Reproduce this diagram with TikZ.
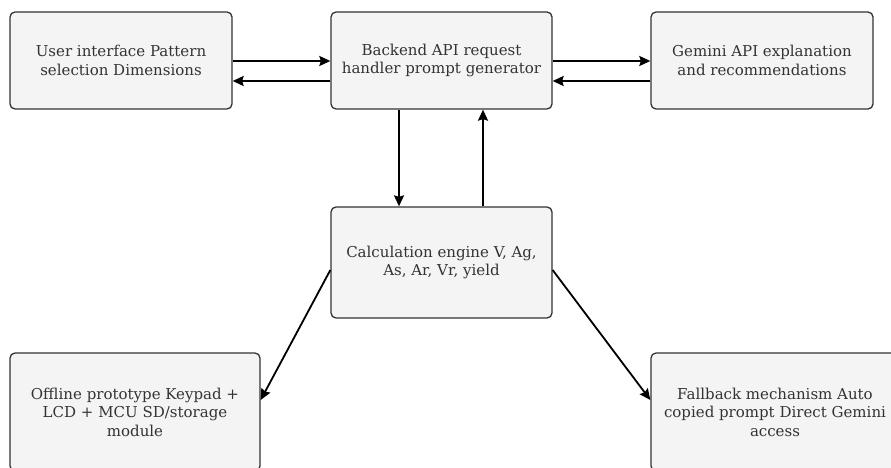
\documentclass[tikz,border=0pt]{standalone}
\usepackage{fontspec}
\setmainfont{DejaVu Serif}
\usetikzlibrary{arrows.meta}
\definecolor{boxfill}{HTML}{F4F4F4}
\definecolor{boxline}{HTML}{333333}
\definecolor{txt}{HTML}{333333}
\begin{document}
\begin{tikzpicture}[x=1pt,y=1pt,
  box/.style={draw=boxline, fill=boxfill, line width=1.3pt, rounded corners=5pt,
    align=center, inner sep=0pt, text=txt,
    font=\fontsize{15}{18.5}\selectfont},
  conn/.style={line width=1.8pt, -{Stealth[length=11pt,width=10pt,inset=1.5pt]}}]
\useasboundingbox (0,0) rectangle (891,-468);
\clip (0,0) rectangle (891,-468);
\node[box, minimum width=222pt, minimum height=97pt] (ui) at (121,-60.5) {User interface Pattern\\selection Dimensions};
\node[box, minimum width=221pt, minimum height=97pt] (be) at (441.5,-60.5) {Backend API request\\handler prompt generator};
\node[box, minimum width=222pt, minimum height=97pt] (ge) at (762,-60.5) {Gemini API explanation\\and recommendations};
\node[box, minimum width=221pt, minimum height=111pt] (ce) at (441.5,-262.5) {Calculation engine V, Ag,\\As, Ar, Vr, yield};
\node[box, minimum width=250pt, minimum height=118pt] (op) at (135,-412) {Offline prototype Keypad +\\LCD + MCU SD/storage\\module};
\node[box, minimum width=248pt, minimum height=118pt] (fb) at (775,-412) {Fallback mechanism Auto\\copied prompt Direct Gemini\\access};
\draw[conn] ([yshift=-0.5pt]ui.east) -- ([yshift=-0.5pt]be.west);
\draw[conn] ([yshift=-20.5pt]be.west) -- ([yshift=-20.5pt]ui.east);
\draw[conn] ([yshift=-0.5pt]be.east) -- ([yshift=-0.5pt]ge.west);
\draw[conn] ([yshift=-20.5pt]ge.west) -- ([yshift=-20.5pt]be.east);
\draw[conn] ([xshift=-42.5pt]be.south) -- ([xshift=-42.5pt]ce.north);
\draw[conn] ([xshift=41.5pt]ce.north) -- ([xshift=41.5pt]be.south);
\draw[conn] ([yshift=-7.5pt]ce.west) -- ([yshift=12pt]op.east);
\draw[conn] ([yshift=-7.5pt]ce.east) -- ([yshift=12pt]fb.west);
\end{tikzpicture}
\end{document}
